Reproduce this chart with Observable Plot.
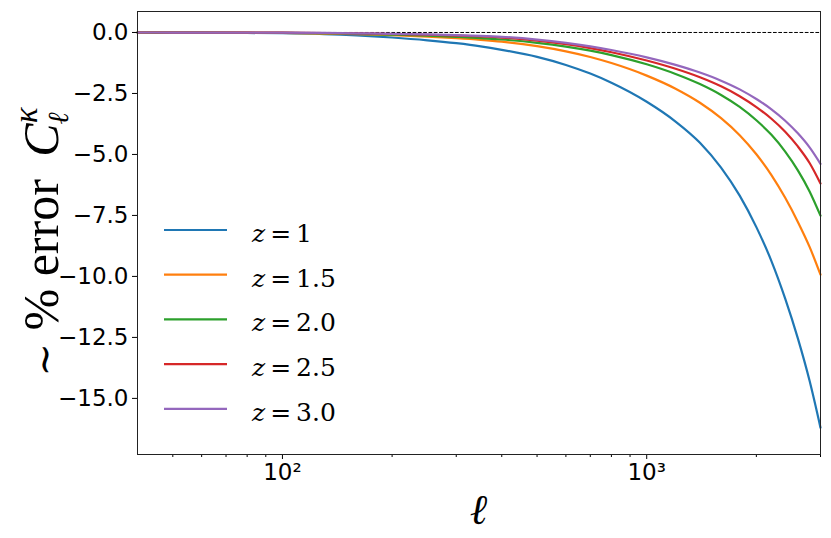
<!DOCTYPE html>
<html><head><meta charset="utf-8">
<script src="https://cdn.jsdelivr.net/npm/d3@7"></script>
<script src="https://cdn.jsdelivr.net/npm/@observablehq/plot@0.6"></script>
<style>body{margin:0;background:#fff} svg{display:block}</style>
</head><body><div id="chart"></div>
<script>
const ell   = [40,50,60,80,100,130,160,200,250,300,350,400,500,600,700,800,1000,1200,1400,1600,1800,2000,2200,2400,2600,2800,3000];
const errZ1  = [0,-0.005,-0.01,-0.02,-0.03,-0.064,-0.118,-0.205,-0.32,-0.44,-0.567,-0.71,-1.0,-1.33,-1.685,-2.06,-2.84,-3.65,-4.52,-5.54,-6.69,-7.98,-9.37,-10.91,-12.54,-14.28,-16.2];
const errZ15 = [0,0,-0.005,-0.01,-0.02,-0.043,-0.07,-0.114,-0.172,-0.235,-0.302,-0.377,-0.561,-0.774,-1.005,-1.254,-1.768,-2.305,-2.881,-3.513,-4.212,-4.994,-5.847,-6.778,-7.765,-8.789,-9.93];
const errZ20 = [0,-0.005,-0.008,-0.012,-0.015,-0.032,-0.055,-0.089,-0.133,-0.18,-0.23,-0.288,-0.424,-0.578,-0.746,-0.926,-1.304,-1.699,-2.114,-2.561,-3.051,-3.598,-4.197,-4.881,-5.651,-6.515,-7.51];
const errZ25 = [0,-0.003,-0.005,-0.008,-0.01,-0.021,-0.037,-0.062,-0.094,-0.127,-0.164,-0.209,-0.335,-0.481,-0.642,-0.81,-1.15,-1.49,-1.838,-2.209,-2.612,-3.058,-3.538,-4.07,-4.672,-5.35,-6.19];
const errZ30 = [0,-0.003,-0.005,-0.007,-0.01,-0.019,-0.033,-0.054,-0.081,-0.109,-0.14,-0.179,-0.291,-0.425,-0.569,-0.72,-1.021,-1.329,-1.644,-1.975,-2.332,-2.728,-3.15,-3.617,-4.135,-4.711,-5.386];
const zLabels = ["1","1.5","2.0","2.5","3.0"];
const colors  = ["#1f77b4","#ff7f0e","#2ca02c","#d62728","#9467bd"];
const yTicks  = [0,-2.5,-5,-7.5,-10,-12.5,-15];
const xMajor  = [100,1000];
const xMajorLabels = ["10²","10³"];
const xMinor  = [50,60,70,80,90,200,300,400,500,600,700,800,900,2000,3000];

const series = [errZ1, errZ15, errZ20, errZ25, errZ30];
const table = [];
series.forEach((vals, k) => vals.forEach((v, i) => table.push({ell: ell[i], err: v, z: zLabels[k]})));

const svg = Plot.plot({
  width: 831, height: 538,
  marginLeft: 137, marginRight: 11, marginTop: 11, marginBottom: 84,
  style: {fontFamily: "DejaVu Sans", fontSize: "23px", color: "black", background: "white"},
  x: {type: "log", domain: [40, 3000]},
  y: {domain: [-17.3, 0.86]},
  color: {domain: zLabels, range: colors},
  marks: [
    Plot.ruleY([0], {stroke: "black", strokeWidth: 1, strokeDasharray: "3.7,1.6"}),
    Plot.line(table, {x: "ell", y: "err", z: "z", stroke: "z", strokeWidth: 2.2, curve: "monotone-x"}),
    Plot.axisY({ticks: yTicks, tickSize: 5, tickPadding: 4, fontSize: 23, tickFormat: d3.format(".1f"), label: null}),
    Plot.axisX({ticks: xMajor, tickSize: 5, fontSize: 23, tickFormat: d => xMajorLabels[xMajor.indexOf(d)], label: null}),
    Plot.axisX({ticks: xMinor, tickSize: 3, tickFormat: () => "", label: null}),
    Plot.frame({stroke: "#222", strokeWidth: 1})
  ]
});

const s = d3.select(svg);
// y label
const yl = s.append("text")
  .attr("transform", "translate(58,242) rotate(-90)")
  .attr("text-anchor", "middle")
  .attr("font-family", "Liberation Serif")
  .attr("font-size", 50)
  .attr("fill", "black");
yl.append("tspan").attr("font-family", "DejaVu Serif").attr("font-size", 40).text("∼");
yl.append("tspan").text(" % error\u00a0\u2009");
yl.append("tspan").attr("font-style", "italic").text("C");
yl.append("tspan").attr("font-style", "italic").attr("font-size", 33).attr("dy", -21).text("κ");
yl.append("tspan").attr("font-family", "DejaVu Serif").attr("font-style", "italic").attr("font-size", 29).attr("dx", -17).attr("dy", 31).text("ℓ");

// x label
s.append("text")
  .attr("x", 478.5).attr("y", 524)
  .attr("text-anchor", "middle")
  .attr("font-family", "DejaVu Serif")
  .attr("font-style", "italic")
  .attr("font-size", 42)
  .attr("fill", "black")
  .text("ℓ");

// legend
const lg = s.append("g");
zLabels.forEach((lab, i) => {
  const yy = 230 + i * 44.7;
  lg.append("line").attr("x1", 164).attr("x2", 227).attr("y1", yy).attr("y2", yy)
    .attr("stroke", colors[i]).attr("stroke-width", 2.2);
  const t = lg.append("text").attr("x", 252).attr("y", yy + 12)
    .attr("text-anchor", "start")
    .attr("font-family", "DejaVu Serif").attr("font-size", 25).attr("fill", "black");
  t.append("tspan").attr("font-style", "italic").text("z");
  t.append("tspan").text("\u2009=\u2009" + lab);
});

document.getElementById("chart").appendChild(svg);
</script>
</body></html>
